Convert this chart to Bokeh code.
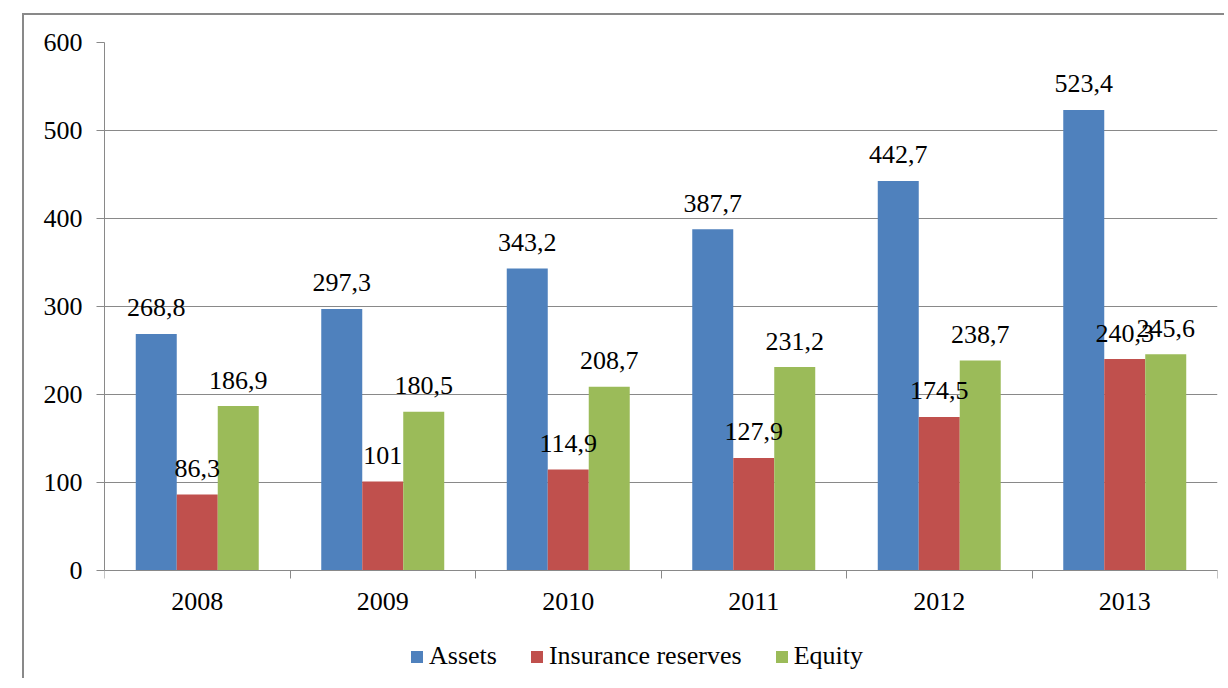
from bokeh.plotting import figure
from bokeh.models import (ColumnDataSource, FixedTicker, Legend, LegendItem,
                          Range1d)
from bokeh.core.properties import value
from bokeh.embed import file_html
from bokeh.resources import INLINE

years = ["2008", "2009", "2010", "2011", "2012", "2013"]
assets = [268.8, 297.3, 343.2, 387.7, 442.7, 523.4]
reserves = [86.3, 101.0, 114.9, 127.9, 174.5, 240.3]
equity = [186.9, 180.5, 208.7, 231.2, 238.7, 245.6]
series_names = ["Assets", "Insurance reserves", "Equity"]
colors = ["#4F81BD", "#C0504D", "#9BBB59"]
y_ticks = [0, 100, 200, 300, 400, 500, 600]

FONT = "Liberation Serif"
GRAY = "#898989"
BAR_W = 0.221
Y_MIN = -125  # room below the axis for category labels and legend

def fmt(v):
    return f"{v:g}".replace(".", ",")

p = figure(width=1202, height=665, output_backend="svg", toolbar_location=None,
           x_range=Range1d(0, len(years)), y_range=Range1d(Y_MIN, 600),
           min_border_left=80, min_border_top=27, min_border_right=9,
           min_border_bottom=0)
p.margin = (13, 0, 0, 22)
p.styles = {"border-left": f"2px solid {GRAY}", "border-top": f"2px solid {GRAY}"}
p.outline_line_color = None
p.xgrid.visible = False
p.ygrid.grid_line_color = GRAY
p.ygrid.grid_line_width = 1
p.ygrid.ticker = FixedTicker(ticks=y_ticks)

centers = [i + 0.5 for i in range(len(years))]
renderers = []
for k, (name, vals, col) in enumerate(zip(series_names, [assets, reserves, equity], colors)):
    off = (k - 1) * BAR_W
    src = ColumnDataSource(dict(x=[c + off for c in centers], top=vals,
                                lab=[fmt(v) for v in vals]))
    r = p.vbar(x="x", top="top", width=BAR_W, source=src, fill_color=col,
               line_color=None)
    renderers.append((name, r))
for k, (name, vals, col) in enumerate(zip(series_names, [assets, reserves, equity], colors)):
    off = (k - 1) * BAR_W
    src = ColumnDataSource(dict(x=[c + off for c in centers], top=vals,
                                lab=[fmt(v) for v in vals]))
    p.text(x="x", y="top", text="lab", source=src, text_align="center",
           text_baseline="alphabetic", y_offset=-26, text_font=value(FONT),
           text_font_size="26px", text_color="black")

# y axis
p.yaxis.ticker = FixedTicker(ticks=y_ticks)
p.yaxis.bounds = (0, 600)
p.yaxis.axis_line_color = GRAY
p.yaxis.major_tick_line_color = GRAY
p.yaxis.major_tick_out = 8
p.yaxis.major_tick_in = 0
p.yaxis.minor_tick_line_color = None
p.yaxis.major_label_text_font = FONT
p.yaxis.major_label_text_font_size = "26px"
p.yaxis.major_label_text_color = "black"
p.yaxis.major_label_standoff = 14

# x axis at y=0: labels at centers, ticks at boundaries
p.xaxis.fixed_location = 0
p.xaxis.ticker = FixedTicker(ticks=centers, minor_ticks=list(range(len(years) + 1)))
p.xaxis.major_label_overrides = {c: y for c, y in zip(centers, years)}
p.xaxis.axis_line_color = GRAY
p.xaxis.major_tick_line_color = None
p.xaxis.major_tick_out = 0
p.xaxis.major_tick_in = 0
p.xaxis.minor_tick_line_color = GRAY
p.xaxis.minor_tick_out = 8
p.xaxis.minor_tick_in = 0
p.xaxis.major_label_text_font = FONT
p.xaxis.major_label_text_font_size = "26px"
p.xaxis.major_label_text_color = "black"
p.xaxis.major_label_standoff = 14

legend = Legend(items=[LegendItem(label=n, renderers=[r]) for n, r in renderers],
                orientation="horizontal", location=(305, 9),
                glyph_width=15, glyph_height=15, label_standoff=5, spacing=32,
                padding=0, margin=0, border_line_color=None,
                background_fill_alpha=0, label_text_font=FONT,
                label_text_font_size="26px", label_text_color="black")
p.add_layout(legend)

open("out.html", "w").write(file_html(p, INLINE))
